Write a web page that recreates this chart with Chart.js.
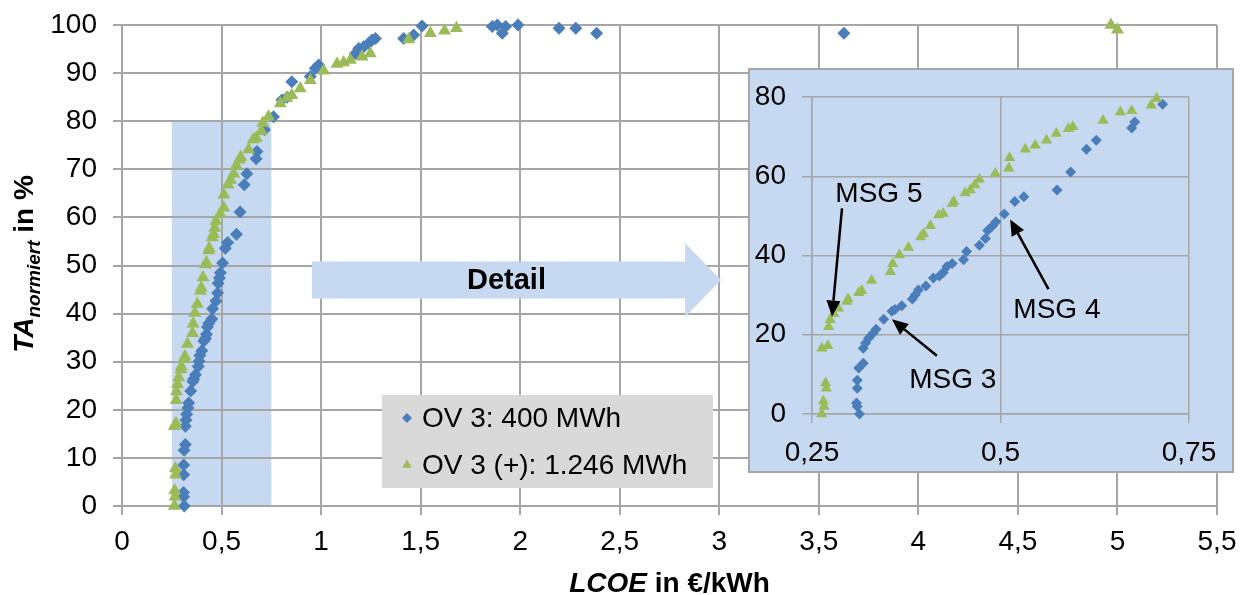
<!DOCTYPE html>
<html><head><meta charset="utf-8">
<script src="https://cdn.jsdelivr.net/npm/chart.js@4.4.1/dist/chart.umd.min.js"></script>
<style>
html,body{margin:0;padding:0;background:#fff;}
#wrap{position:relative;width:1241px;height:595px;overflow:hidden;}
#main{position:absolute;left:0;top:0;}
#insetBox{position:absolute;left:748px;top:68px;width:486px;height:405px;box-sizing:border-box;border:2px solid #A6A6A6;background:#C6D9F1;}
#inset{display:block;}
</style></head><body>
<div id="wrap">
<canvas id="main" width="1241" height="595"></canvas>
<div id="insetBox"><canvas id="inset" width="482" height="401"></canvas></div>
</div>
<script>
// ---------- DATA ----------
const seriesNames = ['OV 3: 400 MWh', 'OV 3 (+): 1.246 MWh'];
const ov3X = [0.313,0.31,0.309,0.31,0.31,0.312,0.318,0.318,0.321,0.325,0.331,0.335,0.345,0.356,0.36,0.369,0.383,0.387,0.391,0.401,0.411,0.419,0.424,0.429,0.436,0.451,0.455,0.472,0.48,0.483,0.489,0.494,0.505,0.519,0.531,0.575,0.593,0.614,0.627,0.674,0.678,0.715,0.761,0.803,0.83,0.853,0.946,0.971,0.988,1.172,1.189,1.214,1.239,1.256,1.273,1.415,1.465,1.507,1.86,1.885,1.91,1.927,1.989,2.195,2.279,2.384,3.626];
const ov3Y = [0,1.9,2.8,6.5,8.5,11.6,12.8,16.6,17.9,19.1,20.4,21.4,23.9,25.9,26.4,27.3,29,30.1,31.3,32.3,34.3,34.8,35.7,37.2,38,38.9,41,42.6,44.3,46.3,47.4,48.5,50.5,53.6,54.8,56.5,61.1,66.8,69.1,72.2,73.7,78.2,80.9,84.4,85,88.2,89.3,91,91.7,94.1,95.1,95.5,96.2,96.9,97.2,97.2,97.9,99.8,99.7,100,98.3,99.7,100,99.3,99.3,98.3,98.3];
const ovPlusX = [0.263,0.266,0.265,0.269,0.268,0.263,0.271,0.272,0.274,0.279,0.285,0.296,0.298,0.312,0.316,0.329,0.354,0.357,0.366,0.378,0.394,0.398,0.407,0.418,0.424,0.436,0.438,0.453,0.46,0.466,0.472,0.493,0.511,0.512,0.533,0.546,0.561,0.574,0.59,0.596,0.636,0.659,0.674,0.7,0.707,0.736,0.795,0.828,0.853,0.895,0.946,1.013,1.08,1.113,1.147,1.206,1.247,1.44,1.549,1.62,1.68,4.967,5.0];
const ovPlusY = [0,1.9,3.2,6.5,7.8,16.6,17.2,22,23.8,25.3,26.7,28.4,29,30.6,31.1,33.7,35.9,37.9,40.1,42,44.7,45.4,47.5,50.2,50.6,53.1,53.6,55.8,56.5,57.8,59.2,60.7,62,64.7,66.8,67.8,69.1,70.8,72,72.5,74.1,76.2,76.5,77.9,79.6,80.9,83.7,84.8,85.4,86.8,88.5,90.5,91.9,92.2,92.7,93.4,94.1,97,98.3,98.8,99.3,100,99];

// axis ranges / ticks
const mainXRange = [0, 5.5], mainXStep = 0.5;
const mainYRange = [0, 100], mainYStep = 10;
const detailX = [0.25, 0.75], detailXStep = 0.25;
const detailY = [0, 80], detailYStep = 20;

// annotation texts in the detail view (data units)
const msgLabels = ['MSG 5', 'MSG 4', 'MSG 3'];
const msgTextX = [0.281, 0.517, 0.379];
const msgTextY = [55.5, 26.1, 8.6];
const msgTailX = [0.2898, 0.5636, 0.4156];
const msgTailY = [51.9, 31.5, 14.7];
const msgTipX = [0.2765, 0.5128, 0.356];
const msgTipY = [24.6, 49.1, 23.9];
const detailWord = 'Detail';
const xTitleParts = ['LCOE', ' in €/kWh'];
const yTitleParts = ['TA', 'normiert', ' in %'];

// ---------- STYLE ----------
const FONT = "'Liberation Sans', Arial, sans-serif";
const GRID = '#A6A6A6';
const BLUE = '#4A7EBB', GREEN = '#9BBB59', HILITE = '#C6D9F1';
Chart.defaults.font.family = FONT;
Chart.defaults.color = '#000';

const fmt = v => String(Math.round(v * 100) / 100).replace('.', ',');
const pts = (xs, ys) => xs.map((x, i) => ({x, y: ys[i]}));
const inDetail = p => p.x >= detailX[0] && p.x <= detailX[1] && p.y >= detailY[0] && p.y <= detailY[1];

const box = {
  arrow: {x0: 312, x1: 685, tip: 721, yMid: 280, bodyH: 18.5, headH: 37},
  legend: {x: 382, y: 395, w: 331, h: 93, markX: 407, textX: 422, row0: 418, rowGap: 47},
  xTitle: {base: 592},
  yTitle: {x: 33, cy: 264}
};

function richText(ctx, parts, x, y) {
  let total = 0;
  parts.forEach(p => { ctx.font = p.font; p.w = ctx.measureText(p.text).width; total += p.w; });
  let cx = x - total / 2;
  ctx.textAlign = 'left'; ctx.textBaseline = 'alphabetic';
  parts.forEach(p => { ctx.font = p.font; ctx.fillText(p.text, cx, y + (p.dy || 0)); cx += p.w; });
}

const highlightPlugin = {
  id: 'highlight',
  beforeDraw(chart) {
    const {ctx, scales: {x, y}} = chart;
    const l = x.getPixelForValue(detailX[0]), r = x.getPixelForValue(detailX[1]);
    const t = y.getPixelForValue(detailY[1]), b = y.getPixelForValue(detailY[0]);
    ctx.save(); ctx.fillStyle = HILITE; ctx.fillRect(l, t, r - l, b - t); ctx.restore();
  }
};

const overlayPlugin = {
  id: 'overlay',
  afterDraw(chart) {
    const ctx = chart.ctx;
    ctx.save();
    // Detail arrow
    const a = box.arrow;
    ctx.fillStyle = HILITE;
    ctx.beginPath();
    ctx.moveTo(a.x0, a.yMid - a.bodyH);
    ctx.lineTo(a.x1, a.yMid - a.bodyH);
    ctx.lineTo(a.x1, a.yMid - a.headH);
    ctx.lineTo(a.tip, a.yMid);
    ctx.lineTo(a.x1, a.yMid + a.headH);
    ctx.lineTo(a.x1, a.yMid + a.bodyH);
    ctx.lineTo(a.x0, a.yMid + a.bodyH);
    ctx.closePath(); ctx.fill();
    ctx.fillStyle = '#000';
    ctx.font = 'bold 29px ' + FONT;
    ctx.textAlign = 'center'; ctx.textBaseline = 'middle';
    ctx.fillText(detailWord, (a.x0 + a.x1) / 2 + 8, a.yMid + 1);
    // legend
    const L = box.legend;
    ctx.fillStyle = '#D9D9D9';
    ctx.fillRect(L.x, L.y, L.w, L.h);
    chart.data.datasets.forEach((ds, i) => {
      const yy = L.row0 + i * L.rowGap;
      ctx.fillStyle = ds.backgroundColor;
      Chart.helpers.drawPoint(ctx, {pointStyle: ds.pointStyle, radius: ds.pointStyle === 'triangle' ? 5.5 : 5, rotation: 0, borderWidth: 0}, L.markX, yy);
      ctx.fillStyle = '#000';
      ctx.font = '28px ' + FONT;
      ctx.textAlign = 'left'; ctx.textBaseline = 'middle';
      ctx.fillText(ds.label, L.textX, yy + 1);
    });
    // axis titles
    const ca = chart.chartArea;
    ctx.fillStyle = '#000';
    richText(ctx, [
      {text: xTitleParts[0], font: 'italic bold 28px ' + FONT},
      {text: xTitleParts[1], font: 'bold 28px ' + FONT}
    ], (ca.left + ca.right) / 2, box.xTitle.base);
    ctx.translate(box.yTitle.x, box.yTitle.cy);
    ctx.rotate(-Math.PI / 2);
    richText(ctx, [
      {text: yTitleParts[0], font: 'italic bold 28px ' + FONT},
      {text: yTitleParts[1], font: 'italic bold 19px ' + FONT, dy: 7},
      {text: yTitleParts[2], font: 'bold 28px ' + FONT}
    ], 0, 0);
    ctx.restore();
  }
};

const tickFont = {family: FONT, size: 28};
const noPadV = s => { s.paddingTop = 0; s.paddingBottom = 0; };
const noPadH = s => { s.paddingLeft = 0; s.paddingRight = 0; };

new Chart(document.getElementById('main'), {
  type: 'scatter',
  data: {
    datasets: [
      {label: seriesNames[0], data: pts(ov3X, ov3Y), pointStyle: 'rectRot', pointRadius: 6.5, backgroundColor: BLUE, borderColor: BLUE, borderWidth: 0, clip: false, order: 1},
      {label: seriesNames[1], data: pts(ovPlusX, ovPlusY), pointStyle: 'triangle', pointRadius: 7.5, backgroundColor: GREEN, borderColor: GREEN, borderWidth: 0, clip: false, order: 0}
    ]
  },
  options: {
    responsive: false, animation: false, devicePixelRatio: 1,
    layout: {padding: {top: 25, right: 24, left: 0, bottom: 0}},
    plugins: {legend: {display: false}, tooltip: {enabled: false}},
    scales: {
      x: {
        type: 'linear', min: mainXRange[0], max: mainXRange[1],
        ticks: {stepSize: mainXStep, callback: fmt, font: tickFont, color: '#000', padding: 10, maxRotation: 0, autoSkip: false},
        grid: {color: GRID, lineWidth: 2, tickLength: 9},
        border: {color: GRID, width: 2},
        afterFit(s) { s.height = 89; noPadH(s); }
      },
      y: {
        type: 'linear', min: mainYRange[0], max: mainYRange[1],
        ticks: {stepSize: mainYStep, callback: fmt, font: tickFont, color: '#000', padding: 16},
        grid: {color: GRID, lineWidth: 2, tickLength: 9},
        border: {color: GRID, width: 2},
        afterFit(s) { s.width = 122; noPadV(s); }
      }
    }
  },
  plugins: [highlightPlugin, overlayPlugin]
});

// ---------- INSET ----------
function arrow(ctx, x1, y1, x2, y2) {
  const ang = Math.atan2(y2 - y1, x2 - x1), hl = 16, hw = 7;
  const bx = x2 - Math.cos(ang) * hl, by = y2 - Math.sin(ang) * hl;
  ctx.beginPath(); ctx.moveTo(x1, y1); ctx.lineTo(bx, by); ctx.stroke();
  ctx.beginPath();
  ctx.moveTo(x2, y2);
  ctx.lineTo(bx + Math.sin(ang) * hw, by - Math.cos(ang) * hw);
  ctx.lineTo(bx - Math.sin(ang) * hw, by + Math.cos(ang) * hw);
  ctx.closePath(); ctx.fill();
}

const msgPlugin = {
  id: 'msg',
  afterDatasetsDraw(chart) {
    const {ctx, scales: {x, y}} = chart;
    ctx.save();
    ctx.strokeStyle = '#000'; ctx.fillStyle = '#000'; ctx.lineWidth = 2.5;
    msgLabels.forEach((lab, i) => {
      arrow(ctx, x.getPixelForValue(msgTailX[i]), y.getPixelForValue(msgTailY[i]),
                 x.getPixelForValue(msgTipX[i]), y.getPixelForValue(msgTipY[i]));
      ctx.font = '28px ' + FONT;
      ctx.textAlign = 'left'; ctx.textBaseline = 'middle';
      ctx.fillText(lab, x.getPixelForValue(msgTextX[i]), y.getPixelForValue(msgTextY[i]));
    });
    ctx.restore();
  }
};

new Chart(document.getElementById('inset'), {
  type: 'scatter',
  data: {
    datasets: [
      {label: seriesNames[0], data: pts(ov3X, ov3Y).filter(inDetail), pointStyle: 'rectRot', pointRadius: 5.5, backgroundColor: BLUE, borderWidth: 0, clip: false, order: 1},
      {label: seriesNames[1], data: pts(ovPlusX, ovPlusY).filter(inDetail), pointStyle: 'triangle', pointRadius: 6.5, backgroundColor: GREEN, borderWidth: 0, clip: false, order: 0}
    ]
  },
  options: {
    responsive: false, animation: false, devicePixelRatio: 1,
    layout: {padding: {top: 27, right: 43, left: 0, bottom: 0}},
    plugins: {legend: {display: false}, tooltip: {enabled: false}},
    scales: {
      x: {
        type: 'linear', min: detailX[0], max: detailX[1],
        ticks: {stepSize: detailXStep, callback: fmt, font: tickFont, color: '#000', padding: 13, maxRotation: 0, autoSkip: false},
        grid: {color: GRID, lineWidth: 1.5, tickLength: 9},
        border: {color: GRID, width: 1.5},
        afterFit(s) { s.height = 57; noPadH(s); }
      },
      y: {
        type: 'linear', min: detailY[0], max: detailY[1],
        ticks: {stepSize: detailYStep, callback: fmt, font: tickFont, color: '#000', padding: 16},
        grid: {color: GRID, lineWidth: 1.5, tickLength: 10},
        border: {color: GRID, width: 1.5},
        afterFit(s) { s.width = 62; noPadV(s); }
      }
    }
  },
  plugins: [msgPlugin]
});
</script>
</body></html>
